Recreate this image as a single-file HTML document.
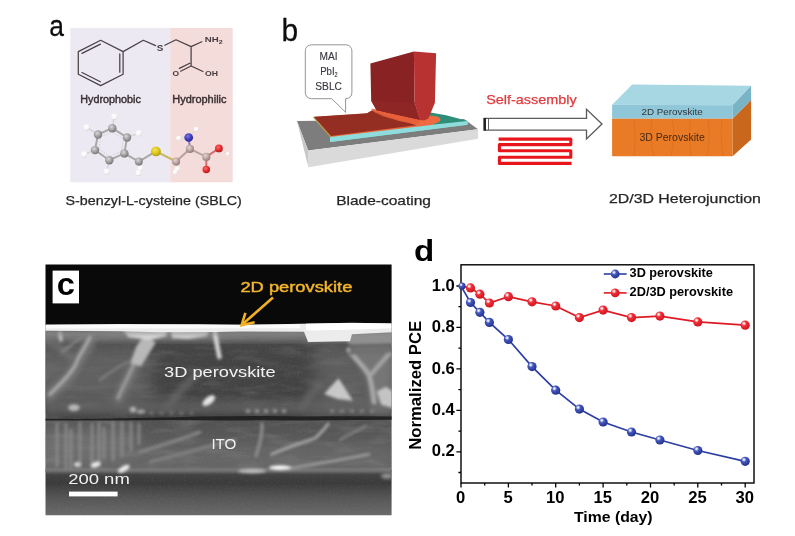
<!DOCTYPE html>
<html><head><meta charset="utf-8"><title>Figure</title>
<style>
html,body{margin:0;padding:0;background:#fff}
body{width:795px;height:536px;overflow:hidden;font-family:"Liberation Sans",sans-serif}
svg{display:block;position:absolute;left:0;top:0}
text{font-family:"Liberation Sans",sans-serif}
.b{font-weight:bold}
</style></head><body>
<svg width="795" height="536" viewBox="0 0 795 536">
<defs>
<filter id="bl" x="-5%" y="-5%" width="110%" height="110%"><feGaussianBlur stdDeviation="0.55"/></filter>
<filter id="bl1" x="-5%" y="-5%" width="110%" height="110%"><feGaussianBlur stdDeviation="0.35"/></filter>
<filter id="bl2" x="-20%" y="-20%" width="140%" height="140%"><feGaussianBlur stdDeviation="1.6"/></filter>
<filter id="bl4" x="-30%" y="-30%" width="160%" height="160%"><feGaussianBlur stdDeviation="9"/></filter>
<filter id="bl3" x="-20%" y="-20%" width="140%" height="140%"><feGaussianBlur stdDeviation="3"/></filter>
<radialGradient id="gC" cx="0.4" cy="0.35" r="0.7"><stop offset="0" stop-color="#d8d8d8"/><stop offset="0.6" stop-color="#9a9a9a"/><stop offset="1" stop-color="#6e6e6e"/></radialGradient>
<radialGradient id="gCp" cx="0.4" cy="0.35" r="0.7"><stop offset="0" stop-color="#e6d6d4"/><stop offset="0.6" stop-color="#b49c9a"/><stop offset="1" stop-color="#8a7674"/></radialGradient>
<radialGradient id="gH" cx="0.4" cy="0.35" r="0.7"><stop offset="0" stop-color="#ffffff"/><stop offset="0.7" stop-color="#f4f4f4"/><stop offset="1" stop-color="#cfcfd4"/></radialGradient>
<radialGradient id="gS" cx="0.4" cy="0.35" r="0.7"><stop offset="0" stop-color="#f5e65a"/><stop offset="0.6" stop-color="#d8c018"/><stop offset="1" stop-color="#a89410"/></radialGradient>
<radialGradient id="gN" cx="0.4" cy="0.35" r="0.7"><stop offset="0" stop-color="#7a78e0"/><stop offset="0.6" stop-color="#3b37b8"/><stop offset="1" stop-color="#2a2890"/></radialGradient>
<radialGradient id="gO" cx="0.4" cy="0.35" r="0.7"><stop offset="0" stop-color="#ff6a6a"/><stop offset="0.6" stop-color="#e0272b"/><stop offset="1" stop-color="#b0191d"/></radialGradient>
<radialGradient id="mB" cx="0.36" cy="0.32" r="0.75"><stop offset="0" stop-color="#ffffff"/><stop offset="0.12" stop-color="#d4daf8"/><stop offset="0.34" stop-color="#4658bc"/><stop offset="1" stop-color="#1c2c8a"/></radialGradient>
<radialGradient id="mR" cx="0.36" cy="0.32" r="0.75"><stop offset="0" stop-color="#ffffff"/><stop offset="0.12" stop-color="#ffd8d8"/><stop offset="0.34" stop-color="#f0303a"/><stop offset="1" stop-color="#cc101a"/></radialGradient>
</defs>
<rect width="795" height="536" fill="#fff"/>
<!--PANEL_A_START-->
<g id="panelA">
<text transform="translate(49.2,36.4) scale(0.91,1)" font-size="29" fill="#111" stroke="#111" stroke-width="0.3" filter="url(#bl1)">a</text>
<g filter="url(#bl)">
<rect x="70.3" y="27.9" width="100" height="154.4" fill="#ece9f2"/>
<rect x="170.2" y="27.9" width="62.5" height="154.4" fill="#f4dcda"/>
<g fill="none" stroke="#4a4045" stroke-width="1.25" stroke-linecap="round" stroke-linejoin="round">
<polygon points="100.7,40.3 123.1,51.6 123.1,74.3 100.7,85.6 78.3,74.3 78.3,51.6"/>
<path d="M82,53.4 L100.4,44.1 M119.8,53.8 V72.2 M82,72.5 L100.4,81.8"/>
<path d="M123.1,51.6 L143.3,40.3 L155.6,45.6 M164.8,45.2 L176,39.8 L191.1,46.6 L201.8,41.8 M191.1,46.6 V66 L203,71.5 M191.1,66 L180.6,71.2 M189.8,63.2 L179.4,68.4"/>
</g>
<g font-weight="bold" fill="#453b3f" font-size="7.4">
<text x="156.8" y="51" font-size="9.6" textLength="6.6" lengthAdjust="spacingAndGlyphs">S</text>
<text x="204.8" y="42.2" textLength="17.8" lengthAdjust="spacingAndGlyphs">NH<tspan font-size="5.4" dy="1.8">2</tspan></text>
<text x="205" y="75.6" textLength="13" lengthAdjust="spacingAndGlyphs">OH</text>
<text x="172.4" y="75.6" textLength="6.6" lengthAdjust="spacingAndGlyphs">O</text>
</g>
<g font-size="10" fill="#3a3033" stroke="#3a3033" stroke-width="0.4">
<text x="80.3" y="103.4" textLength="60.5" lengthAdjust="spacingAndGlyphs">Hydrophobic</text>
<text x="172.3" y="103.4" textLength="54.2" lengthAdjust="spacingAndGlyphs">Hydrophilic</text>
</g>
<!-- ball and stick --><g transform="translate(0.2,1)">
<g stroke="#a8a8a8" stroke-width="2" stroke-linecap="round" fill="none">
<path d="M97.8,133.5 L112.1,127.2 L126.8,136.5 L124.2,152.4 L109.1,159.2 L94.8,149.1 Z"/>
<path d="M124.2,152.4 L138.6,160.5 L155.7,150.4" />
<path d="M97.8,133.5 L86.4,126.4 M112.1,127.2 L114.2,115.6 M126.8,136.5 L138.6,132.2 M94.8,149.1 L83.9,153.4 M109.1,159.2 L106.6,170.5 M138.6,160.5 L140.1,168 M138.6,160.5 L138.1,171.8" stroke="#d6d6da" stroke-width="1.6"/>
<path d="M155.7,150.4 L175.9,160.5" stroke="#c9b860"/>
<path d="M175.9,160.5 L189.7,147.9 L206.1,155.9" stroke="#b8a2a0"/>
<path d="M189.7,147.9 L188.5,136.5" stroke="#8a7cc0"/>
<path d="M206.1,155.9 L206.1,168.5 M206.1,155.9 L218.7,147.4" stroke="#d07070"/>
<path d="M175.9,160.5 L177.1,168 M175.9,160.5 L175,171 M188.5,136.5 L178.4,137.3 M188.5,136.5 L196,128.2 M218.7,147.4 L227.5,152.9" stroke="#e8d8d8" stroke-width="1.4"/>
</g>
<g stroke="#c8c0cc" stroke-width="0.7" stroke-dasharray="1.5 1.2" fill="none">
<path d="M100.8,135.6 L111.8,130.8 L123.2,138 L121.2,150.3 L109.5,155.5 L98.5,147.7 Z"/>
</g>
<g>
<circle cx="86.4" cy="126.4" r="3.12" fill="url(#gH)"/><circle cx="114.2" cy="115.6" r="3.12" fill="url(#gH)"/>
<circle cx="138.6" cy="132.2" r="3.12" fill="url(#gH)"/><circle cx="83.9" cy="153.4" r="3.12" fill="url(#gH)"/>
<circle cx="106.6" cy="170.5" r="3.12" fill="url(#gH)"/><circle cx="140.1" cy="167.6" r="2.88" fill="url(#gH)"/>
<circle cx="138.1" cy="172" r="2.88" fill="url(#gH)"/>
<circle cx="177.1" cy="168" r="2.76" fill="url(#gH)"/><circle cx="175" cy="171.3" r="2.52" fill="url(#gH)"/>
<circle cx="178.4" cy="137.3" r="2.52" fill="url(#gH)"/><circle cx="196" cy="128.2" r="2.40" fill="url(#gH)"/>
<circle cx="227.5" cy="152.9" r="2.04" fill="url(#gH)"/>
<circle cx="97.8" cy="133.5" r="4.22" fill="url(#gC)"/><circle cx="112.1" cy="127.2" r="4.22" fill="url(#gC)"/>
<circle cx="126.8" cy="136.5" r="4.22" fill="url(#gC)"/><circle cx="124.2" cy="152.4" r="4.22" fill="url(#gC)"/>
<circle cx="109.1" cy="159.2" r="4.22" fill="url(#gC)"/><circle cx="94.8" cy="149.1" r="4.22" fill="url(#gC)"/>
<circle cx="138.6" cy="160.5" r="3.99" fill="url(#gC)"/>
<circle cx="155.7" cy="150.4" r="4.95" fill="url(#gS)"/>
<circle cx="175.9" cy="160.5" r="3.99" fill="url(#gCp)"/><circle cx="189.7" cy="147.9" r="4.10" fill="url(#gCp)"/>
<circle cx="206.1" cy="155.9" r="4.10" fill="url(#gCp)"/>
<circle cx="188.5" cy="136.5" r="4.37" fill="url(#gN)"/>
<circle cx="206.1" cy="168.5" r="3.76" fill="url(#gO)"/><circle cx="218.7" cy="147.4" r="3.88" fill="url(#gO)"/>
</g>
</g></g>
<text x="65.6" y="204.6" font-size="13.2" fill="#262626" stroke="#262626" stroke-width="0.25" textLength="176.2" lengthAdjust="spacingAndGlyphs" filter="url(#bl1)">S-benzyl-L-cysteine (SBLC)</text>
</g>
<!--PANEL_A_END-->
<!--PANEL_B_START-->
<g id="panelB">
<text transform="translate(281.4,41.3) scale(0.93,1)" font-size="32.2" fill="#111" stroke="#111" stroke-width="0.3" filter="url(#bl1)">b</text>
<g filter="url(#bl)">
<!-- substrate -->
<polygon points="297,120.9 464,119 478,129.2 308.2,150.4" fill="#7d7d7d"/>
<polygon points="308.2,150.4 478,129.2 478,138.8 308.6,167.2" fill="#dadada"/>
<polygon points="297,120.9 308.2,150.4 308.6,167.2 306.5,160" fill="#c8c8c8"/>
<!-- cyan layer -->
<polygon points="313,117.5 446,115.5 467.5,121 467.5,124.8 330,142 330,136.5" fill="#86d8d6"/>
<polygon points="330,136.6 467.5,121 467.5,124.8 330,142" fill="#8fdcdc"/>
<!-- teal -->
<polygon points="425,111.5 446,115.3 467.5,121 434,124.6 415,118" fill="#2f8e78"/>
<!-- orange rim + film -->
<polygon points="313.4,117 367,113.5 372,110.8 432,117 436,121 433,124.7 330,137" fill="#ea6a3e"/>
<polygon points="313.2,117.2 330.2,136.9 331.2,136.6 314.4,116.9" fill="#b0a040"/>
<polygon points="313.9,116.8 367,113.2 372,110.3 386,115.5 416.5,125.2 331,135.9" fill="#942f20"/>
<ellipse cx="428" cy="120.3" rx="12.5" ry="4.4" fill="#f0693f" transform="rotate(-4 428 120.3)"/>
<polygon points="371,108.5 380,110 422,120 417,124.4 400,121.3 384,116.5 374,112" fill="#e8603a" opacity="0.9"/>
<!-- bubble -->
<path d="M311.3,44.8 H345.9 a6,6 0 0 1 6,6 V92.7 a6,6 0 0 1 -6,6 H345.6 L345.6,112.3 L331.7,98.7 H311.3 a6,6 0 0 1 -6,-6 V50.8 a6,6 0 0 1 6,-6 Z" fill="#fff" stroke="#8a8a8a" stroke-width="0.9"/>
<g font-size="11.4" fill="#3a3540" stroke="#3a3540" stroke-width="0.15" text-anchor="middle">
<text x="328.6" y="60.2" textLength="18" lengthAdjust="spacingAndGlyphs">MAI</text>
<text x="328.9" y="75.3" textLength="17.5" lengthAdjust="spacingAndGlyphs">PbI<tspan font-size="6.5" dy="2">2</tspan></text>
<text x="328.6" y="90.1" textLength="26.6" lengthAdjust="spacingAndGlyphs">SBLC</text>
</g>
<!-- blade -->
<polygon points="370.4,63.5 413.9,51.4 414.6,102.6 419.8,119.8 376.5,110.3 371.2,100.8" fill="#892224"/>
<polygon points="371.2,100.8 414.6,102.6 419.8,119.8 376.5,110.3" fill="#8f2626"/>
<polygon points="413.9,51.4 436.1,53.3 434.9,102.7 428.4,118.6 424,120.6 419.8,119.8 414.6,102.6" fill="#b93031"/>
</g>
<text x="336.2" y="204.6" font-size="13.2" fill="#262626" stroke="#262626" stroke-width="0.25" textLength="94.8" lengthAdjust="spacingAndGlyphs" filter="url(#bl1)">Blade-coating</text>
<!-- arrow -->
<g filter="url(#bl1)">
<path d="M484.2,118.4 H586.5 V109.3 L602,124 L586.5,138.9 V130.1 H484.2 Z" fill="#fff" stroke="#5c5c5c" stroke-width="1.35"/>
<rect x="483.6" y="118" width="2.4" height="12.6" fill="#222"/>
<rect x="488" y="118.6" width="0.9" height="11.4" fill="#555"/>
<text x="486.2" y="104.4" font-size="13.6" fill="#e2393c" stroke="#e2393c" stroke-width="0.25" textLength="90.6" lengthAdjust="spacingAndGlyphs">Self-assembly</text>
<path d="M498.6,139.1 H570.8 V144.6 H499.4 V150.7 H570.8 V157.2 H499.4 V163.4 H571.6" fill="none" stroke="#e8191c" stroke-width="3.1" stroke-linejoin="round"/>
</g>
<!-- box -->
<g filter="url(#bl)">
<polygon points="612.1,104.7 632.2,84.6 751.1,85.8 732.6,105.3" fill="#a8d7e4"/>
<polygon points="612.1,104.7 732.6,105.3 732.6,118.8 612.1,118.8" fill="#8fc7d9"/>
<polygon points="732.6,105.3 751.1,85.8 751.1,100.3 732.6,118.8" fill="#79b3c6"/>
<polygon points="612.1,118.8 732.6,118.8 732.6,156.3 612.1,156.3" fill="#e97a26"/>
<polygon points="732.6,118.8 751.1,100.3 751.1,139.6 732.6,156.3" fill="#c9671f"/>
<g stroke="#d06a1c" stroke-width="0.6" fill="none" opacity="0.8">
<path d="M634,119 q3,18 0,37 M652,119 q-3,20 2,37 M672,119 q4,16 -1,37 M690,119 q-2,18 1,37 M708,119 q3,20 -1,37 M722,119 q-2,16 1,37"/>
</g>
<text x="641.4" y="114.8" font-size="9.6" fill="#30383c" textLength="61.4" lengthAdjust="spacingAndGlyphs">2D Perovskite</text>
<text x="639.4" y="140.6" font-size="10" fill="#4a2a10" textLength="65.4" lengthAdjust="spacingAndGlyphs">3D Perovskite</text>
</g>
<text x="608.9" y="202.7" font-size="13.2" fill="#262626" stroke="#262626" stroke-width="0.25" textLength="152" lengthAdjust="spacingAndGlyphs" filter="url(#bl1)">2D/3D Heterojunction</text>
</g>
<!--PANEL_B_END-->
<!--PANEL_C_START-->
<g id="panelC">
<defs>
<clipPath id="semclip"><rect x="45.5" y="264.6" width="346.1" height="250.7"/></clipPath>
<linearGradient id="semPv" x1="0" y1="0" x2="0" y2="1"><stop offset="0" stop-color="#525252"/><stop offset="0.25" stop-color="#444444"/><stop offset="0.8" stop-color="#424242"/><stop offset="1" stop-color="#3c3c3c"/></linearGradient>
<linearGradient id="semIto" x1="0" y1="0" x2="0" y2="1"><stop offset="0" stop-color="#525252"/><stop offset="0.6" stop-color="#585858"/><stop offset="1" stop-color="#606060"/></linearGradient>
<linearGradient id="semBot" x1="0" y1="0" x2="0" y2="1"><stop offset="0" stop-color="#404040"/><stop offset="0.28" stop-color="#3b3b3b"/><stop offset="0.62" stop-color="#565656"/><stop offset="1" stop-color="#6a6a6a"/></linearGradient>
<filter id="noise" x="0" y="0" width="100%" height="100%"><feTurbulence type="fractalNoise" baseFrequency="0.5" numOctaves="2" seed="3" result="n"/><feColorMatrix type="matrix" values="0 0 0 0 1  0 0 0 0 1  0 0 0 0 1  0.9 0 0 0 -0.38"/></filter>
<filter id="noise2" x="0" y="0" width="100%" height="100%"><feTurbulence type="fractalNoise" baseFrequency="0.03 0.12" numOctaves="3" seed="8" result="n"/><feColorMatrix type="matrix" values="0 0 0 0 1  0 0 0 0 1  0 0 0 0 1  1.2 0 0 0 -0.52"/></filter>
</defs>
<g clip-path="url(#semclip)">
<rect x="45" y="264" width="347" height="62" fill="#090909"/>
<rect x="45" y="326" width="347" height="93" fill="url(#semPv)"/>
<rect x="45" y="419" width="347" height="52" fill="url(#semIto)"/>
<rect x="45" y="470" width="347" height="46" fill="url(#semBot)"/>
<!--SEMF_START-->
<!-- texture -->
<rect x="45" y="331" width="347" height="185" filter="url(#noise)" opacity="0.12"/>
<rect x="45" y="331" width="347" height="140" filter="url(#noise2)" opacity="0.2"/>
<!-- broad shading -->
<rect x="40" y="330" width="360" height="11" fill="#8a8a8a" opacity="0.75" filter="url(#bl3)"/>
<g filter="url(#bl4)">
<rect x="30" y="345" width="120" height="60" fill="#787878" opacity="0.55"/>
<rect x="315" y="345" width="90" height="66" fill="#787878" opacity="0.5"/>
<rect x="30" y="428" width="105" height="36" fill="#888888" opacity="0.5"/>
<rect x="140" y="444" width="260" height="22" fill="#808080" opacity="0.4"/>
</g>
<g filter="url(#bl3)" opacity="0.9">
<path d="M92,336 C86,350 80,358 76,366 C70,378 58,388 46,398" stroke="#7e7e7e" stroke-width="9" fill="none"/>
<path d="M148,338 C142,352 136,362 132,370 C127,382 122,392 116,404" stroke="#7a7a7a" stroke-width="9" fill="none"/>
<path d="M45,340 C60,346 70,352 76,366" stroke="#707070" stroke-width="7" fill="none"/>
<path d="M165,408 C175,396 186,384 200,372" stroke="#6c6c6c" stroke-width="6" fill="none"/>
<path d="M350,345 L392,345 L392,415 L372,415 L368,380 Z" fill="#787878"/>
<path d="M300,412 C306,400 312,390 322,384" stroke="#6c6c6c" stroke-width="6" fill="none"/>
<rect x="45" y="400" width="347" height="14" fill="#6a6a6a" opacity="0.7"/>
</g>
<!-- perovskite streaks -->
<g filter="url(#bl2)" fill="none" stroke-linecap="round">
<path d="M90,337 C84,350 78,356 76,364 C70,376 58,386 50,394" stroke="#a8a8a8" stroke-width="3.4"/>
<path d="M146,340 C141,352 136,360 132,368 C127,380 122,388 118,398" stroke="#989898" stroke-width="3.6"/>
<path d="M146,336 L153,343 L140,364 L133,362 L138,348 Z" stroke="#b8b8b8" stroke-width="4" fill="#b8b8b8"/>
<path d="M214.8,332 C216,340 217.5,348 219.4,357" stroke="#d4d4d4" stroke-width="4.6"/>
<path d="M60,333 L61,340" stroke="#c0c0c0" stroke-width="3.4"/>
<path d="M100,380 C110,372 120,366 128,362" stroke="#7a7a7a" stroke-width="3"/>
<path d="M62,352 C70,346 76,342 82,336" stroke="#808080" stroke-width="3"/>
<!-- right structures -->
<path d="M349,350 C356,360 364,366 369,375 C372,384 373,394 374,402" stroke="#a8a8a8" stroke-width="5"/>
<path d="M391,352 C384,360 376,368 370,376" stroke="#a4a4a4" stroke-width="4.4"/>
<path d="M352,339 L391,338" stroke="#909090" stroke-width="11"/>
<path d="M352,352 L391,350" stroke="#707070" stroke-width="6"/>
<polygon points="326,393.5 338.4,380 351,399.5 338,398" fill="#c8c8c8" stroke="#c8c8c8" stroke-width="2"/>
<polygon points="378,392 386,388 392,392 392,407 382,404" fill="#c4c4c4" stroke="#c4c4c4" stroke-width="2"/>
</g>
<g filter="url(#bl2)">
<ellipse cx="208.8" cy="400.6" rx="7.4" ry="3.6" fill="#e4e4e4" transform="rotate(-38 208.8 400.6)"/>
<ellipse cx="74" cy="407.6" rx="5.8" ry="3.4" fill="#b8b8b8"/>
<ellipse cx="133" cy="409.6" rx="3.2" ry="2.8" fill="#b4b4b4"/>
<ellipse cx="141" cy="411.4" rx="4" ry="2" fill="#a4a4a4"/>
<path d="M246,411 H290" stroke="#969696" stroke-width="3.4" stroke-dasharray="4 5"/>
<path d="M150,413 H200" stroke="#7c7c7c" stroke-width="3" stroke-dasharray="3 7"/>
<path d="M330,411 H380" stroke="#858585" stroke-width="3" stroke-dasharray="4 6"/>
</g>
<!-- flakes below top layer -->
<g filter="url(#bl2)">
<path d="M124,331 L166,331 L167,336 L150,340 L128,337 Z" fill="#d6d6d6"/>
<path d="M171,331 L209,331 L207,336 L188,339 L172,338 Z" fill="#d0d0d0"/>
<path d="M45,333.5 H392" stroke="#8c8c8c" stroke-width="3" opacity="0.55"/>
</g>
<!-- top bright layer -->
<g filter="url(#bl)" transform="translate(0,0.2)">
<path d="M45,324.4 L120,323.8 L200,324 L241,324.8 L300,323.6 L352,322.6 L392,323.2 L392,332 L352,334 L350,341 L308,341.8 L304,331.6 L241,331.2 L215,331.8 L160,332 L120,331 L45,330.6 Z" fill="#ececec"/>
<path d="M306,323.6 L352,322.8 L392,323.2 L392,328 L350,329.6 L306,330.2 Z" fill="#ffffff"/>
<path d="M45,324.8 L300,324.2 L300,328 L45,328.4 Z" fill="#fbfbfb"/>
</g>
<!-- dark interface line -->
<path d="M45,415.6 H392" stroke="#383838" stroke-width="5" opacity="0.5" filter="url(#bl2)"/>
<g filter="url(#bl)">
<path d="M45,418.8 L80,419 L110,418.6 L140,418 L170,417.4 L200,416.6 L230,416.2 L262,416 L300,416.4 L340,416.2 L392,416.6 L392,419.8 L350,420 L300,420.4 L262,420.2 L230,420.4 L200,420.2 L170,420 L140,420.2 L110,420.4 L80,420.6 L45,420.4 Z" fill="#202020"/>
</g>
<!-- ITO streaks -->
<g filter="url(#bl2)" fill="none" stroke-linecap="round">
<g stroke="#8e8e8e" stroke-width="2.6" opacity="0.9">
<path d="M57,424 V466 M66,424 V468 M71,430 V468 M80,423 V466 M92,424 V462 M99,423 V464 M104,428 V458 M113,423 V460 M122,423 V456 M131,423 V450 M139,424 V444"/>
</g>
<path d="M271.6,454.3 C290,446 304,442 314.6,438.5 C320,434 325,428 328.2,423.8" stroke="#a8a8a8" stroke-width="2.8"/>
<path d="M289.7,467.9 C320,464 345,459 369,454.3" stroke="#9c9c9c" stroke-width="2.8"/>
<path d="M340,440 C350,434 358,430 366,426" stroke="#858585" stroke-width="2.4"/>
<path d="M140,452 C160,446 180,440 200,432" stroke="#878787" stroke-width="3"/>
<path d="M150,462 C175,456 200,448 235,440" stroke="#828282" stroke-width="3"/>
<path d="M262,424 C263,434 260,444 256,456" stroke="#8c8c8c" stroke-width="3.4"/>
<path d="M45,470.5 H392" stroke="#7e7e7e" stroke-width="3.4"/>
</g>
<g filter="url(#bl2)">
<ellipse cx="77.4" cy="464.5" rx="3.4" ry="2.4" fill="#d4d4d4"/>
<ellipse cx="95.6" cy="464.6" rx="5.2" ry="2.8" fill="#ebebeb" transform="rotate(-15 95.6 464.6)"/>
<ellipse cx="123.8" cy="468.8" rx="6.6" ry="2.8" fill="#ececec" transform="rotate(-30 123.8 468.8)"/>
<ellipse cx="280" cy="467.6" rx="11" ry="2.4" fill="#fafafa"/>
<ellipse cx="252" cy="471" rx="14" ry="2.2" fill="#bcbcbc"/>
<ellipse cx="387" cy="476" rx="6" ry="3" fill="#8c8c8c"/>
</g>
<!--SEMF_END-->
</g>
<rect x="52.6" y="270.6" width="26.4" height="32.8" fill="#fff"/>
<text transform="translate(56.8,295.3) scale(1.07,1)" font-size="30.5" class="b" fill="#000">c</text>
<g filter="url(#bl1)">
<text x="240.4" y="291.6" font-size="14.6" fill="#f4b62c" stroke="#f4b62c" stroke-width="0.45" textLength="112" lengthAdjust="spacingAndGlyphs">2D perovskite</text>
<path d="M273,297.6 L243.4,323.6" stroke="#f2b124" stroke-width="2.6" fill="none"/>
<path d="M254.6,322.2 L241.6,325.2 L245.4,312.8" stroke="#f2b124" stroke-width="2.6" fill="none" stroke-linejoin="miter"/>
<text x="164" y="377.2" font-size="14.6" fill="#f2f2f2" textLength="111.6" lengthAdjust="spacingAndGlyphs">3D perovskite</text>
<text x="211.4" y="448.5" font-size="14.6" fill="#f2f2f2" textLength="25" lengthAdjust="spacingAndGlyphs">ITO</text>
<text x="68.2" y="484" font-size="14.6" fill="#f2f2f2" textLength="61.6" lengthAdjust="spacingAndGlyphs">200 nm</text>
<rect x="69" y="491.6" width="48.6" height="4.8" fill="#fff"/>
</g>
</g>
<!--PANEL_C_END-->
<!--PANEL_D_START-->
<g id="panelD">
<text transform="translate(413.9,261.2) scale(1.12,1)" font-size="29.6" class="b" fill="#000">d</text>
<rect x="461.0" y="264.8" width="293.0" height="218.2" fill="none" stroke="#000" stroke-width="1.4"/>
<text x="454.8" y="290.6" font-size="16.6" class="b" text-anchor="end">1.0</text>
<text x="454.8" y="332.0" font-size="16.6" class="b" text-anchor="end">0.8</text>
<text x="454.8" y="373.5" font-size="16.6" class="b" text-anchor="end">0.6</text>
<text x="454.8" y="415.0" font-size="16.6" class="b" text-anchor="end">0.4</text>
<text x="454.8" y="456.4" font-size="16.6" class="b" text-anchor="end">0.2</text>
<text x="460.6" y="502.5" font-size="16.6" class="b" text-anchor="middle">0</text>
<text x="508.0" y="502.5" font-size="16.6" class="b" text-anchor="middle">5</text>
<text x="555.3" y="502.5" font-size="16.6" class="b" text-anchor="middle">10</text>
<text x="602.7" y="502.5" font-size="16.6" class="b" text-anchor="middle">15</text>
<text x="650.1" y="502.5" font-size="16.6" class="b" text-anchor="middle">20</text>
<text x="697.4" y="502.5" font-size="16.6" class="b" text-anchor="middle">25</text>
<text x="744.8" y="502.5" font-size="16.6" class="b" text-anchor="middle">30</text>
<path d="M461.0,286.0 h-4.6 M461.0,327.4 h-4.6 M461.0,368.9 h-4.6 M461.0,410.4 h-4.6 M461.0,451.8 h-4.6 M461.0,306.7 h-2.6 M461.0,348.1 h-2.6 M461.0,389.6 h-2.6 M461.0,431.1 h-2.6 M461.0,472.5 h-2.6 M461.0,483.0 v4.6 M508.4,483.0 v4.6 M555.7,483.0 v4.6 M603.1,483.0 v4.6 M650.5,483.0 v4.6 M697.8,483.0 v4.6 M745.2,483.0 v4.6 M484.7,483.0 v2.6 M532.0,483.0 v2.6 M579.4,483.0 v2.6 M626.8,483.0 v2.6 M674.2,483.0 v2.6 M721.5,483.0 v2.6" stroke="#000" stroke-width="1.3" fill="none"/>
<text x="574" y="522" font-size="15.5" class="b" textLength="78.6" lengthAdjust="spacingAndGlyphs">Time (day)</text>
<text transform="translate(420.8,449.8) rotate(-90)" font-size="16" class="b" textLength="129" lengthAdjust="spacingAndGlyphs">Normalized PCE</text>
<polyline points="461.0,286.1 470.5,287.9 479.9,294.2 489.4,303.0 508.4,296.7 532.0,301.8 555.7,306.0 579.4,317.6 603.1,310.1 631.5,317.6 659.9,316.1 697.8,321.9 745.2,325.2" fill="none" stroke="#e01a24" stroke-width="1.7"/>
<polyline points="461.0,286.1 470.5,302.5 479.9,312.3 489.4,322.4 508.4,339.5 532.0,366.6 555.7,390.2 579.4,409.1 603.1,422.0 631.5,432.0 659.9,440.0 697.8,450.5 745.2,461.3" fill="none" stroke="#2c3ea2" stroke-width="1.7"/>
<circle cx="470.5" cy="287.9" r="4.6" fill="url(#mR)"/>
<circle cx="479.9" cy="294.2" r="4.6" fill="url(#mR)"/>
<circle cx="489.4" cy="303.0" r="4.6" fill="url(#mR)"/>
<circle cx="508.4" cy="296.7" r="4.6" fill="url(#mR)"/>
<circle cx="532.0" cy="301.8" r="4.6" fill="url(#mR)"/>
<circle cx="555.7" cy="306.0" r="4.6" fill="url(#mR)"/>
<circle cx="579.4" cy="317.6" r="4.6" fill="url(#mR)"/>
<circle cx="603.1" cy="310.1" r="4.6" fill="url(#mR)"/>
<circle cx="631.5" cy="317.6" r="4.6" fill="url(#mR)"/>
<circle cx="659.9" cy="316.1" r="4.6" fill="url(#mR)"/>
<circle cx="697.8" cy="321.9" r="4.6" fill="url(#mR)"/>
<circle cx="745.2" cy="325.2" r="4.6" fill="url(#mR)"/>
<circle cx="470.5" cy="302.5" r="4.6" fill="url(#mB)"/>
<circle cx="479.9" cy="312.3" r="4.6" fill="url(#mB)"/>
<circle cx="489.4" cy="322.4" r="4.6" fill="url(#mB)"/>
<circle cx="508.4" cy="339.5" r="4.6" fill="url(#mB)"/>
<circle cx="532.0" cy="366.6" r="4.6" fill="url(#mB)"/>
<circle cx="555.7" cy="390.2" r="4.6" fill="url(#mB)"/>
<circle cx="579.4" cy="409.1" r="4.6" fill="url(#mB)"/>
<circle cx="603.1" cy="422.0" r="4.6" fill="url(#mB)"/>
<circle cx="631.5" cy="432.0" r="4.6" fill="url(#mB)"/>
<circle cx="659.9" cy="440.0" r="4.6" fill="url(#mB)"/>
<circle cx="697.8" cy="450.5" r="4.6" fill="url(#mB)"/>
<circle cx="745.2" cy="461.3" r="4.6" fill="url(#mB)"/>
<circle cx="462.0" cy="286.1" r="3.6" fill="url(#mB)"/>
<path d="M603.8,274 H626.6" stroke="#2c3ea2" stroke-width="1.6"/><circle cx="615.2" cy="274" r="4.4" fill="url(#mB)"/>
<path d="M603.8,292.9 H626.6" stroke="#e01a24" stroke-width="1.6"/><circle cx="615.2" cy="292.9" r="4.4" fill="url(#mR)"/>
<text x="629.6" y="277.4" font-size="12.2" class="b" textLength="83.2" lengthAdjust="spacingAndGlyphs">3D perovskite</text>
<text x="629.6" y="296.3" font-size="12.2" class="b" textLength="103.4" lengthAdjust="spacingAndGlyphs">2D/3D perovskite</text>
</g>
<!--PANEL_D_END-->
</svg>
</body></html>
